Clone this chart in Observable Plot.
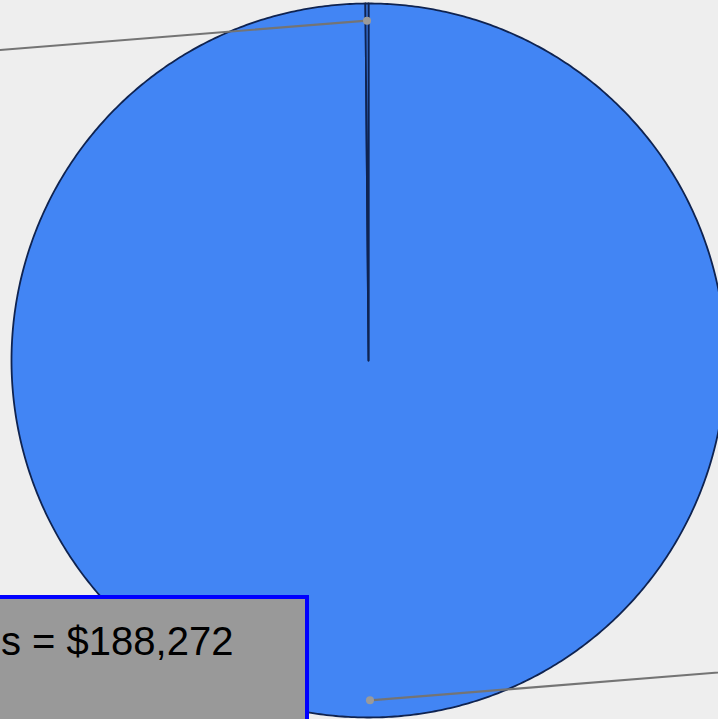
<!DOCTYPE html>
<html>
<head>
<meta charset="utf-8">
<script src="https://cdn.jsdelivr.net/npm/d3@7"></script>
<script src="https://cdn.jsdelivr.net/npm/@observablehq/plot@0.6"></script>
<style>
  html, body { margin: 0; padding: 0; background: #eeeeee; overflow: hidden; width: 718px; height: 719px; }
  #wrap { position: relative; width: 718px; height: 719px; overflow: hidden; }
  #box { position: absolute; left: -10px; top: 595px; width: 319px; height: 140px;
         background: #999999; border: 4px solid #0000ff; box-sizing: border-box; }
  #boxtext { position: absolute; left: 1px; top: 621px; font-family: "Liberation Sans", Arial, sans-serif;
             font-size: 40px; line-height: 40px; color: #000; white-space: nowrap; }
</style>
</head>
<body>
<div id="wrap"></div>
<script>
// ---- data ----
const categories = ["Total", "Other"];
const values = [188272, 260];
const colors = ["#4285f4", "#4285f4"];
const labelText = "s = $188,272";

// ---- geometry (radius units) ----
const W = 718, H = 719;
const cx = 368, cy = 360, R = 357;

const pie = d3.pie().sort(null).value(d => d.value);
const arcs = pie(categories.map((c, i) => ({name: c, value: values[i], color: colors[i]})));

const polys = [];
arcs.forEach((a) => {
  polys.push({name: a.data.name, color: a.data.color, x: 0, y: 0});
  const span = a.endAngle - a.startAngle;
  const n = Math.max(2, Math.ceil(span / (Math.PI / 360)));
  for (let k = 0; k <= n; k++) {
    const t = a.startAngle + span * k / n;
    polys.push({name: a.data.name, color: a.data.color, x: Math.sin(t), y: Math.cos(t)});
  }
});

// leader lines: from a dot inside each slice outward
const leaders = [];
const dots = [];
arcs.forEach((a) => {
  const m = (a.startAngle + a.endAngle) / 2;
  const px = 0.952 * Math.sin(m), py = 0.952 * Math.cos(m);
  const goRight = py < 0;
  const dx = goRight ? 1.3 : -1.3;
  const dy = goRight ? 0.104 : -0.104;
  dots.push({name: a.data.name, x: px, y: py});
  leaders.push({name: a.data.name, x: px, y: py});
  leaders.push({name: a.data.name, x: px + dx, y: py + dy});
});

const chart = Plot.plot({
  width: W,
  height: H,
  margin: 0,
  x: {axis: null, domain: [-cx / R, (W - cx) / R]},
  y: {axis: null, domain: [-(H - cy) / R, cy / R]},
  style: {background: "#eeeeee", overflow: "hidden"},
  marks: [
    Plot.line(polys, {x: "x", y: "y", z: "name", fill: d => d.color, stroke: "#0f2350",
      strokeWidth: 1.8, curve: "linear-closed", clip: true}),
    Plot.line(leaders, {x: "x", y: "y", z: "name", stroke: "#747474", strokeWidth: 2.2, clip: true}),
    Plot.dot(dots, {x: "x", y: "y", r: 4, fill: "#9a9a9a", stroke: "none"})
  ]
});

const wrap = document.getElementById("wrap");
wrap.appendChild(chart);
const box = document.createElement("div");
box.id = "box";
wrap.appendChild(box);
const txt = document.createElement("div");
txt.id = "boxtext";
txt.textContent = labelText;
wrap.appendChild(txt);
</script>
</body>
</html>
